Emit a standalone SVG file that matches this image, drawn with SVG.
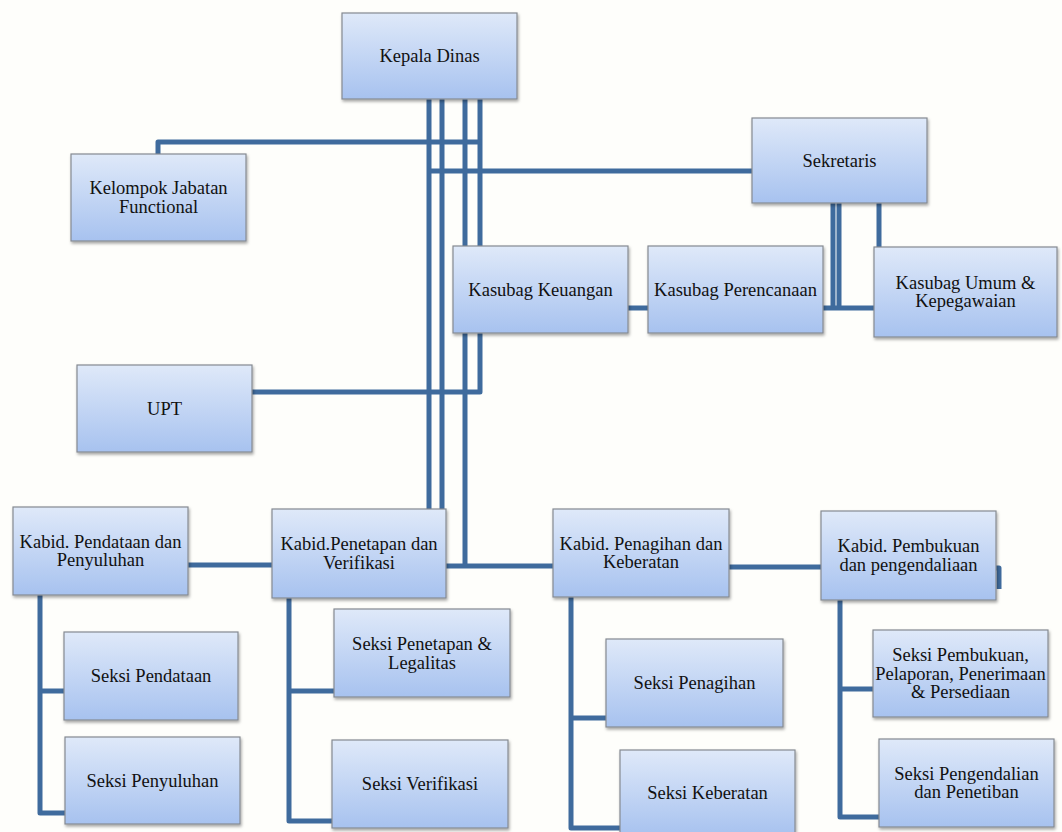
<svg xmlns="http://www.w3.org/2000/svg" width="1062" height="832" viewBox="0 0 1062 832">
<defs>
<linearGradient id="g" x1="0" y1="0" x2="0" y2="1">
<stop offset="0" stop-color="#dfe9f9"/>
<stop offset="1" stop-color="#a7c2ef"/>
</linearGradient>
<filter id="sh" x="-10%" y="-10%" width="125%" height="130%">
<feDropShadow dx="1" dy="2" stdDeviation="1.5" flood-color="#000" flood-opacity="0.35"/>
</filter>
<style>
.box{fill:url(#g);stroke:#858a92;stroke-width:1.2;filter:url(#sh)}
.t{font-family:"Liberation Serif","Times New Roman",serif;font-size:18.5px;fill:#111;text-anchor:middle}
.c{fill:none;stroke:#3f6b9d;stroke-width:5;stroke-linejoin:round;stroke-linecap:butt}
</style>
</defs>
<rect width="1062" height="832" fill="#fefefb"/>
<g id="connectors">
<path class="c" d="M429,99 V509 M442,99 V509 M465,99 V566 M480,99 V392 H252"/>
<path class="c" d="M158,154 V142 H482"/>
<path class="c" d="M429,171 H752"/>
<path class="c" d="M446,566 H553"/>
<path class="c" d="M188,565 H272"/>
<path class="c" d="M729,567 H821"/>
<path class="c" d="M996,568 H999 V589"/>
<path class="c" d="M628,308 H648"/>
<path class="c" d="M833,203 V308 M839,203 V308 M823,308 H874 M879,203 V247"/>
<path class="c" d="M40,595 V813 H65 M40,691 H64"/>
<path class="c" d="M289,598 V821 H332 M289,691 H334"/>
<path class="c" d="M571,597 V828 H620 M571,718 H606"/>
<path class="c" d="M840,600 V817 H879 M840,689 H873"/>
</g>
<g id="kepala"><rect class="box" x="342" y="13" width="175" height="86"/><text class="t" x="429.5" y="62">Kepala Dinas</text></g>
<g id="kelompok"><rect class="box" x="71" y="154" width="175" height="87"/><text class="t" x="158.5" y="194">Kelompok Jabatan</text><text class="t" x="158.5" y="212.5">Functional</text></g>
<g id="sekretaris"><rect class="box" x="752" y="118" width="175" height="85"/><text class="t" x="839.5" y="166.5">Sekretaris</text></g>
<g id="keuangan"><rect class="box" x="453" y="246" width="175" height="87"/><text class="t" x="540.5" y="296">Kasubag Keuangan</text></g>
<g id="perencanaan"><rect class="box" x="648" y="246" width="175" height="87"/><text class="t" x="735.5" y="296">Kasubag Perencanaan</text></g>
<g id="umum"><rect class="box" x="874" y="247" width="183" height="90"/><text class="t" x="965.5" y="288.5">Kasubag Umum &amp;</text><text class="t" x="965.5" y="307">Kepegawaian</text></g>
<g id="upt"><rect class="box" x="77" y="365" width="175" height="87"/><text class="t" x="164.5" y="415">UPT</text></g>
<g id="kabid-pendataan"><rect class="box" x="13" y="507" width="175" height="88"/><text class="t" x="100.5" y="547.5">Kabid. Pendataan dan</text><text class="t" x="100.5" y="566">Penyuluhan</text></g>
<g id="kabid-penetapan"><rect class="box" x="272" y="509" width="174" height="89"/><text class="t" x="359" y="550">Kabid.Penetapan dan</text><text class="t" x="359" y="568.5">Verifikasi</text></g>
<g id="kabid-penagihan"><rect class="box" x="553" y="509" width="176" height="88"/><text class="t" x="641" y="549.5">Kabid. Penagihan dan</text><text class="t" x="641" y="568">Keberatan</text></g>
<g id="kabid-pembukuan"><rect class="box" x="821" y="511" width="175" height="89"/><text class="t" x="908.5" y="552">Kabid. Pembukuan</text><text class="t" x="908.5" y="570.5">dan pengendaliaan</text></g>
<g id="seksi-pendataan"><rect class="box" x="64" y="632" width="174" height="88"/><text class="t" x="151" y="682">Seksi Pendataan</text></g>
<g id="seksi-penyuluhan"><rect class="box" x="65" y="737" width="175" height="87"/><text class="t" x="152.5" y="787">Seksi Penyuluhan</text></g>
<g id="seksi-penetapan"><rect class="box" x="334" y="609" width="176" height="88"/><text class="t" x="422" y="650">Seksi Penetapan &amp;</text><text class="t" x="422" y="668.5">Legalitas</text></g>
<g id="seksi-verifikasi"><rect class="box" x="332" y="740" width="176" height="88"/><text class="t" x="420" y="790">Seksi Verifikasi</text></g>
<g id="seksi-penagihan"><rect class="box" x="606" y="639" width="177" height="88"/><text class="t" x="694.5" y="689">Seksi Penagihan</text></g>
<g id="seksi-keberatan"><rect class="box" x="620" y="750" width="175" height="86"/><text class="t" x="707.5" y="799">Seksi Keberatan</text></g>
<g id="seksi-pembukuan"><rect class="box" x="873" y="630" width="175" height="87"/><text class="t" x="960.5" y="661">Seksi Pembukuan,</text><text class="t" x="960.5" y="679.5">Pelaporan, Penerimaan</text><text class="t" x="960.5" y="698">&amp; Persediaan</text></g>
<g id="seksi-pengendalian"><rect class="box" x="879" y="739" width="175" height="88"/><text class="t" x="966.5" y="779.5">Seksi Pengendalian</text><text class="t" x="966.5" y="798">dan Penetiban</text></g>
</svg>
